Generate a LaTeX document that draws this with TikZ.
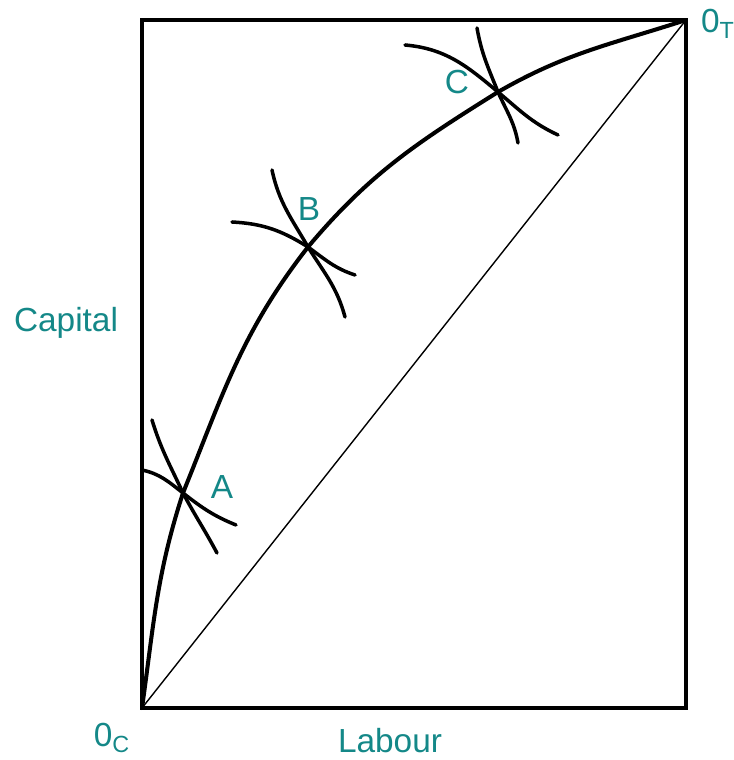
\documentclass[tikz,border=0pt]{standalone}
\usepackage{fontspec}
\setmainfont{Liberation Sans}
\usepackage{xcolor}
\usetikzlibrary{positioning}
\definecolor{labelteal}{RGB}{20,136,136}
\tikzset{
  boxline/.style={line width=2.8pt, line cap=rect},
  contract/.style={line width=2.3pt, line cap=round},
  isoquant/.style={line width=2pt, line cap=round},
  diag/.style={line width=0.8pt},
  lbl/.style={text=labelteal, font=\fontsize{19}{22}\selectfont, inner sep=0pt},
}

\begin{document}
\begin{tikzpicture}[x=0.02cm, y=0.02cm]
  \useasboundingbox (0,0) rectangle (733,760);
  % corners and points on the curve
  \coordinate (oc) at (142,52);
  \coordinate (ot) at (686,740);
  \coordinate (A) at (183,267);
  \coordinate (B) at (308,513);
  \coordinate (C) at (498,668);
  % box
  \draw[boxline] (oc) rectangle (ot);
  % diagonal
  \draw[diag] (oc) -- (ot);
  % contract curve
  \draw[contract] (oc) to[out=82,in=252] (A) to[out=68,in=232] (B)
    to[out=50,in=212] (C) to[out=30,in=198] (ot);
  % isoquants at A
  \draw[isoquant] (142,290) to[out=-12,in=142] (A) to[out=-38,in=158] (236,235);
  \draw[isoquant] (152,340) to[out=-73,in=115] (A) to[out=-62,in=118] (217,207);
  % isoquants at B
  \draw[isoquant] (232,538) to[out=-3,in=148] (B) to[out=-36,in=162] (355,485);
  \draw[isoquant] (272,590) to[out=-78,in=120] (B) to[out=-58,in=105] (345,443);
  % isoquants at C
  \draw[isoquant] (405,715) to[out=-5,in=140] (C) to[out=-40,in=155] (558,625);
  \draw[isoquant] (477,732) to[out=-80,in=112] (C) to[out=-66,in=100] (518,617);
  % labels
  \node[lbl] (la) at (222,273) {A};
  \node[lbl] (lb) at (309,551) {B};
  \node[lbl] (lc) at (457,678) {C};
  \node[lbl] (cap) at (66,437) {Capital};
  \node[lbl] (lab) at (390,19) {Labour};
  \node[lbl] (zc) at (112,22) {0\textsubscript{C}};
  \node[lbl] (zt) at (718,736) {0\textsubscript{T}};
\end{tikzpicture}
\end{document}
